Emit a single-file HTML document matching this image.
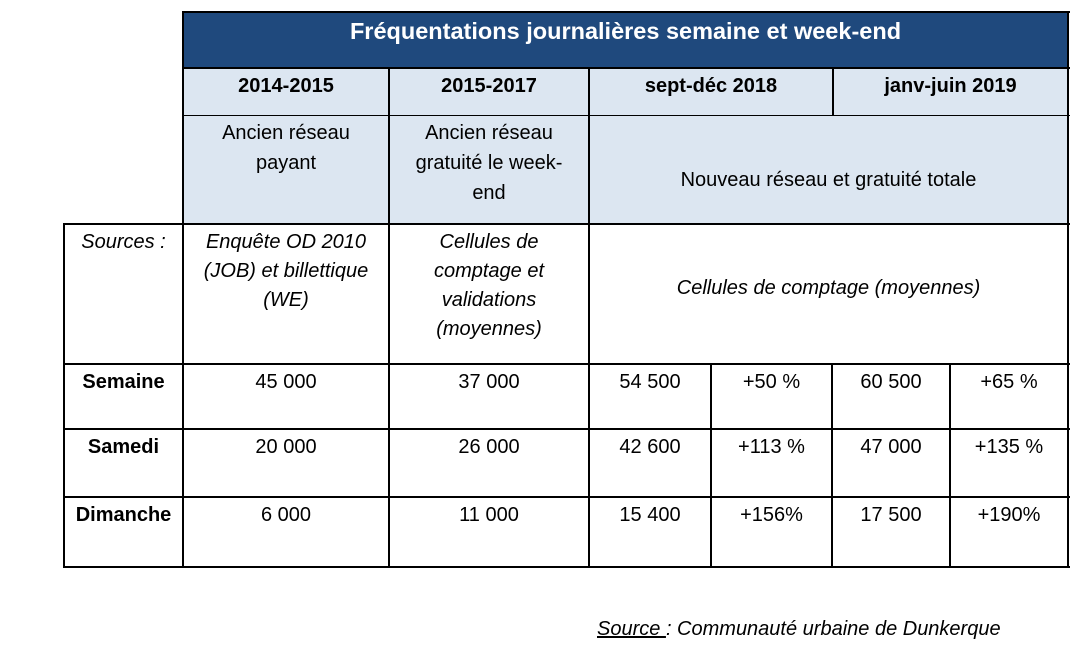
<!DOCTYPE html>
<html><head><meta charset="utf-8"><style>
body{margin:0;width:1083px;height:664px;background:#fff;position:relative;overflow:hidden;font-family:"Liberation Sans",sans-serif;color:#000}
.c{position:absolute;box-sizing:border-box;text-align:center;font-size:20px;line-height:30px;white-space:nowrap;padding-top:2px}
.l{position:absolute;background:#000}
.i{font-style:italic;line-height:29px}
.b{font-weight:bold}
</style></head><body>
<div class="c" style="left:183px;top:12px;width:885px;height:56px;background:#1F497D;color:#fff;font-weight:bold;font-size:23.5px;line-height:38px;padding-top:0">Fréquentations journalières semaine et week-end</div>
<div class="c" style="left:183px;top:68px;width:885px;height:156px;background:#DCE6F1"></div>
<div class="c b" style="left:183px;top:69px;width:206px">2014-2015</div>
<div class="c b" style="left:389px;top:69px;width:200px">2015-2017</div>
<div class="c b" style="left:589px;top:69px;width:244px">sept-déc 2018</div>
<div class="c b" style="left:833px;top:69px;width:235px">janv-juin 2019</div>
<div class="c" style="left:183px;top:116px;width:206px">Ancien réseau<br>payant</div>
<div class="c" style="left:389px;top:116px;width:200px">Ancien réseau<br>gratuité le week-<br>end</div>
<div class="c" style="left:589px;top:163px;width:479px">Nouveau réseau et gratuité totale</div>
<div class="c i" style="left:64px;top:226px;width:119px">Sources :</div>
<div class="c i" style="left:183px;top:226px;width:206px">Enquête OD 2010<br>(JOB) et billettique<br>(WE)</div>
<div class="c i" style="left:389px;top:226px;width:200px">Cellules de<br>comptage et<br>validations<br>(moyennes)</div>
<div class="c i" style="left:589px;top:272px;width:479px">Cellules de comptage (moyennes)</div>
<div class="c b" style="left:64px;top:365px;width:119px">Semaine</div>
<div class="c" style="left:183px;top:365px;width:206px">45 000</div>
<div class="c" style="left:389px;top:365px;width:200px">37 000</div>
<div class="c" style="left:589px;top:365px;width:122px">54 500</div>
<div class="c" style="left:711px;top:365px;width:121px">+50 %</div>
<div class="c" style="left:832px;top:365px;width:118px">60 500</div>
<div class="c" style="left:950px;top:365px;width:118px">+65 %</div>
<div class="c b" style="left:64px;top:430px;width:119px">Samedi</div>
<div class="c" style="left:183px;top:430px;width:206px">20 000</div>
<div class="c" style="left:389px;top:430px;width:200px">26 000</div>
<div class="c" style="left:589px;top:430px;width:122px">42 600</div>
<div class="c" style="left:711px;top:430px;width:121px">+113 %</div>
<div class="c" style="left:832px;top:430px;width:118px">47 000</div>
<div class="c" style="left:950px;top:430px;width:118px">+135 %</div>
<div class="c b" style="left:64px;top:498px;width:119px">Dimanche</div>
<div class="c" style="left:183px;top:498px;width:206px">6 000</div>
<div class="c" style="left:389px;top:498px;width:200px">11 000</div>
<div class="c" style="left:589px;top:498px;width:122px">15 400</div>
<div class="c" style="left:711px;top:498px;width:121px">+156%</div>
<div class="c" style="left:832px;top:498px;width:118px">17 500</div>
<div class="c" style="left:950px;top:498px;width:118px">+190%</div>
<div class="l" style="left:182px;top:11px;width:888px;height:2px"></div>
<div class="l" style="left:182px;top:67px;width:888px;height:2px"></div>
<div class="l" style="left:182px;top:115px;width:888px;height:1px"></div>
<div class="l" style="left:63px;top:223px;width:1007px;height:2px"></div>
<div class="l" style="left:63px;top:363px;width:1007px;height:2px"></div>
<div class="l" style="left:63px;top:428px;width:1007px;height:2px"></div>
<div class="l" style="left:63px;top:496px;width:1007px;height:2px"></div>
<div class="l" style="left:63px;top:566px;width:1007px;height:2px"></div>
<div class="l" style="left:63px;top:223px;width:2px;height:345px"></div>
<div class="l" style="left:182px;top:11px;width:2px;height:557px"></div>
<div class="l" style="left:388px;top:67px;width:2px;height:501px"></div>
<div class="l" style="left:588px;top:67px;width:2px;height:501px"></div>
<div class="l" style="left:832px;top:67px;width:2px;height:49px"></div>
<div class="l" style="left:710px;top:363px;width:2px;height:205px"></div>
<div class="l" style="left:831px;top:363px;width:2px;height:205px"></div>
<div class="l" style="left:949px;top:363px;width:2px;height:205px"></div>
<div class="l" style="left:1067px;top:11px;width:2px;height:557px"></div>
<div style="position:absolute;left:597px;top:618px;font-size:20px;font-style:italic;white-space:nowrap"><u>Source </u>: Communauté urbaine de Dunkerque</div>
</body></html>
